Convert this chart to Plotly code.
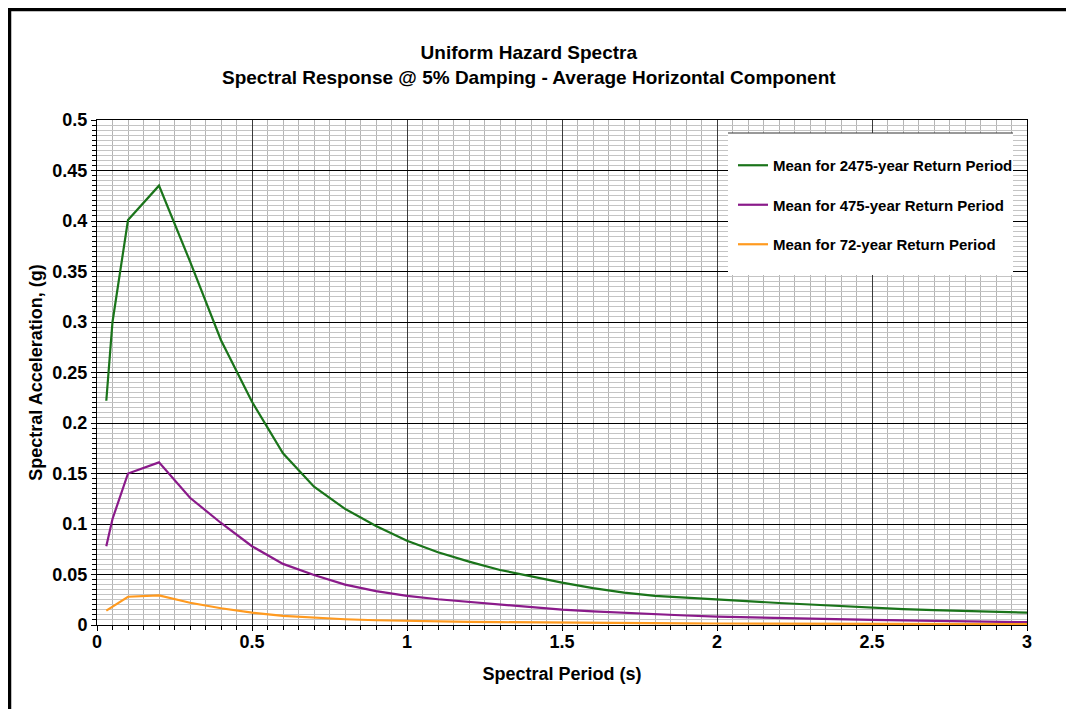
import plotly.graph_objects as go

periods = [0.03, 0.05, 0.1, 0.2, 0.3, 0.4, 0.5, 0.6, 0.7, 0.8, 0.9, 1.0,
           1.1, 1.2, 1.3, 1.4, 1.5, 1.6, 1.7, 1.8, 1.9, 2.0,
           2.1, 2.2, 2.3, 2.4, 2.5, 2.6, 2.7, 2.8, 2.9, 3.0]

sa_2475 = [0.222, 0.300, 0.401, 0.435, 0.360, 0.282, 0.221, 0.170, 0.137, 0.115, 0.098, 0.0835,
           0.072, 0.0627, 0.0545, 0.048, 0.042, 0.0365, 0.032, 0.0288, 0.027, 0.0248,
           0.0233, 0.0218, 0.0203, 0.0186, 0.0167, 0.0157, 0.0148, 0.0139, 0.0131, 0.0123]

sa_475 = [0.078, 0.105, 0.150, 0.161, 0.126, 0.101, 0.078, 0.0605, 0.0495, 0.040, 0.0335, 0.0288,
          0.0255, 0.0228, 0.0202, 0.0178, 0.0152, 0.0135, 0.0119, 0.0106, 0.0094, 0.0083,
          0.0075, 0.0068, 0.0062, 0.0056, 0.0050, 0.0045, 0.0040, 0.0036, 0.0032, 0.0028]

sa_72 = [0.0142, 0.018, 0.028, 0.0294, 0.022, 0.0166, 0.0122, 0.0090, 0.0070, 0.0057, 0.0047, 0.0040,
         0.0035, 0.0031, 0.0028, 0.0025, 0.0022, 0.0020, 0.0019, 0.0017, 0.0016, 0.0015,
         0.0014, 0.0013, 0.0012, 0.0012, 0.0011, 0.0010, 0.0010, 0.0009, 0.0009, 0.0008]

series_names = ["Mean for 2475-year Return Period",
                "Mean for 475-year Return Period",
                "Mean for 72-year Return Period"]
series_values = [sa_2475, sa_475, sa_72]
series_colors = ["#1a741a", "#8a1a8a", "#ff9a1f"]

title_lines = ["Uniform Hazard Spectra",
               "Spectral Response @ 5% Damping - Average Horizontal Component"]
x_title = "Spectral Period (s)"
y_title = "Spectral Acceleration, (g)"

FONT = "Liberation Sans, Arial, sans-serif"

fig = go.Figure()
for i, (name, vals, col) in enumerate(zip(series_names, series_values, series_colors)):
    fig.add_trace(go.Scatter(x=periods, y=vals, mode="lines", name=name,
                             legendgroup=f"g{i}",
                             line=dict(color=col, width=2.2)))

# page pixel -> paper helpers (plot area 97..1027 x 120..625 on the page)
OFF = 8  # page body margin
W, H = 1074, 709
L, R, T, B = 97, 1027, 120, 625
def px(xp):
    return (xp - L) / (R - L)
def py(yp):
    return (B - yp) / (B - T)

shapes = [
    # outer frame
    dict(type="rect", xref="paper", yref="paper",
         x0=px(9.5), x1=px(1071.5), y0=py(740), y1=py(9.5),
         line=dict(color="black", width=3.5), fillcolor="rgba(0,0,0,0)", layer="above"),
    # legend box
    dict(type="rect", xref="paper", yref="paper",
         x0=px(728), x1=px(1013), y0=py(275), y1=py(133),
         line=dict(width=0), fillcolor="white", layer="above"),
    dict(type="line", xref="paper", yref="paper",
         x0=px(728), x1=px(1013), y0=py(133), y1=py(133),
         line=dict(color="#333333", width=1), layer="above"),
]

fig.update_layout(
    width=W, height=H,
    margin=dict(l=L - OFF, r=W - (R - OFF), t=T - OFF, b=H - (B - OFF)),
    paper_bgcolor="white", plot_bgcolor="white",
    font=dict(family=FONT, color="black"),
    showlegend=True,
    legend=dict(x=px(733), y=py(149), xanchor="left", yanchor="top",
                xref="paper", yref="paper",
                bgcolor="rgba(0,0,0,0)", borderwidth=0,
                font=dict(family=FONT, size=15, color="black", weight="bold"),
                tracegroupgap=17, traceorder="grouped"),
    shapes=shapes,
    annotations=[
        dict(text="<b>" + title_lines[0] + "</b><br><b>" + title_lines[1] + "</b>",
             xref="paper", yref="paper", x=px(529), y=py(65),
             xanchor="center", yanchor="middle", showarrow=False,
             font=dict(family=FONT, size=19, color="black")),
    ],
)

fig.update_xaxes(
    range=[0, 3], dtick=0.5, tick0=0,
    showgrid=True, gridcolor="#3a3a3a", gridwidth=1,
    showline=True, linecolor="black", linewidth=1, mirror=True,
    ticks="outside", ticklen=5, tickcolor="black",
    ticklabelstandoff=-5,
    tickfont=dict(family=FONT, size=18, color="black", weight="bold"),
    zeroline=False,
    minor=dict(dtick=0.05, tick0=0, showgrid=True, gridcolor="#b4b4b4", gridwidth=1,
               ticks="outside", ticklen=4, tickcolor="black"),
    title=dict(text=x_title, standoff=16,
               font=dict(family=FONT, size=18, color="black", weight="bold")),
)
fig.update_yaxes(
    range=[0, 0.5], dtick=0.05, tick0=0,
    showgrid=True, gridcolor="black", gridwidth=1,
    showline=True, linecolor="black", linewidth=1, mirror=True,
    ticks="outside", ticklen=5, tickcolor="black",
    tickfont=dict(family=FONT, size=18, color="black", weight="bold"),
    zeroline=False,
    minor=dict(dtick=0.005, tick0=0, showgrid=True, gridcolor="#c4c4c4", gridwidth=1,
               ticks="outside", ticklen=4, tickcolor="black"),
    title=dict(text=y_title, standoff=5,
               font=dict(family=FONT, size=18, color="black", weight="bold")),
)

fig.write_html("out.html")
